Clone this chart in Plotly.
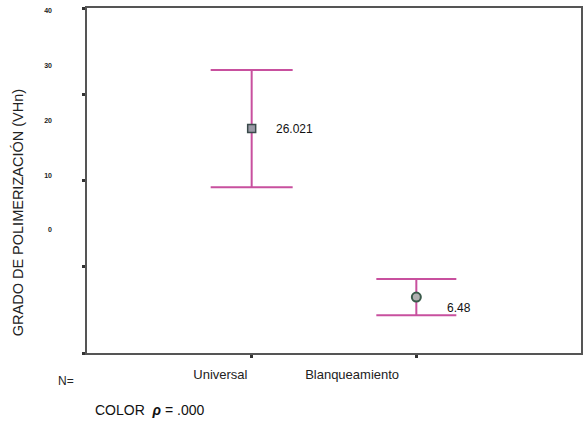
import plotly.graph_objects as go

categories = ["Universal", "Blanqueamiento"]
x_pos = [1, 2]
means = [26.021, 6.48]
ci_half = [6.8, 2.1]
mean_labels = ["26.021", "6.48"]
y_ticks = [0, 10, 20, 30, 40]
y_tick_text = ["0", "10", "20", "30", "40"]
# label positions as they appear (shifted) in the scanned original
cat_label_pos = [0.81, 1.61]

pink = "#c8509e"
frame = "#555555"
font = "Liberation Sans, Arial, sans-serif"

fig = go.Figure()
fig.add_trace(go.Scatter(
    x=[x_pos[0]], y=[means[0]], mode="markers",
    marker=dict(symbol="square", size=8, color="#9a9aa6", line=dict(color="#3a4a4a", width=1.5)),
    error_y=dict(type="data", array=[ci_half[0]], color=pink, thickness=2, width=41),
    showlegend=False, hoverinfo="skip"))
fig.add_trace(go.Scatter(
    x=[x_pos[1]], y=[means[1]], mode="markers",
    marker=dict(symbol="circle", size=9, color="#b0b0b0", line=dict(color="#3a5a4a", width=2)),
    error_y=dict(type="data", array=[ci_half[1]], color=pink, thickness=2, width=40),
    showlegend=False, hoverinfo="skip"))
# invisible carrier for the secondary (label) axes
fig.add_trace(go.Scatter(x=[None], y=[None], xaxis="x2", yaxis="y2", showlegend=False, hoverinfo="skip"))

fig.add_annotation(x=x_pos[0], y=means[0], text=mean_labels[0], showarrow=False,
                   xanchor="left", xshift=22, font=dict(family=font, size=12, color="#111"))
fig.add_annotation(x=x_pos[1], y=means[1], text=mean_labels[1], showarrow=False,
                   xanchor="left", xshift=29, yshift=-11, font=dict(family=font, size=12, color="#111"))

fig.update_layout(
    width=586, height=423,
    margin=dict(l=87, r=3, t=8, b=70),
    paper_bgcolor="white", plot_bgcolor="white",
    xaxis=dict(range=[0, 3], tickvals=x_pos, ticktext=["", ""], ticks="outside", ticklen=3,
               tickwidth=3, tickcolor="#333", showgrid=False, zeroline=False,
               showline=True, linecolor=frame, linewidth=2, mirror=True),
    yaxis=dict(range=[0, 40], tickvals=y_ticks, ticktext=["", "", "", "", ""], ticks="outside",
               ticklen=3, tickwidth=3, tickcolor="#333", showgrid=False, zeroline=False,
               showline=True, linecolor=frame, linewidth=2, mirror=True),
    xaxis2=dict(overlaying="x", anchor="y", side="bottom", range=[0, 3], tickvals=cat_label_pos,
                ticktext=categories, ticks="", showline=False, showgrid=False, zeroline=False,
                ticklabelstandoff=12, tickfont=dict(family=font, size=13, color="#222")),
    yaxis2=dict(overlaying="y", anchor="x", side="left", range=[-22.47, 40.55], tickvals=y_ticks,
                ticktext=y_tick_text, ticks="", showline=False, showgrid=False, zeroline=False,
                ticklabelstandoff=34, tickfont=dict(family=font, size=7, color="#222", weight="bold")),
)

fig.add_annotation(xref="paper", yref="paper", x=-0.139, y=0.406, text="GRADO DE POLIMERIZACIÓN (VHn)",
                   textangle=-90, showarrow=False, xanchor="center", yanchor="middle",
                   font=dict(family=font, size=14.5, color="#222"))
fig.add_annotation(xref="paper", yref="paper", x=-0.062, y=-0.055, text="N=", showarrow=False,
                   yanchor="top", font=dict(family=font, size=12, color="#222"))
fig.add_annotation(xref="paper", yref="paper", x=0.012, y=-0.135, text="COLOR  <b><i>ρ</i></b> = .000",
                   showarrow=False, xanchor="left", yanchor="top",
                   font=dict(family=font, size=14, color="#111"))

fig.write_html("out.html")
